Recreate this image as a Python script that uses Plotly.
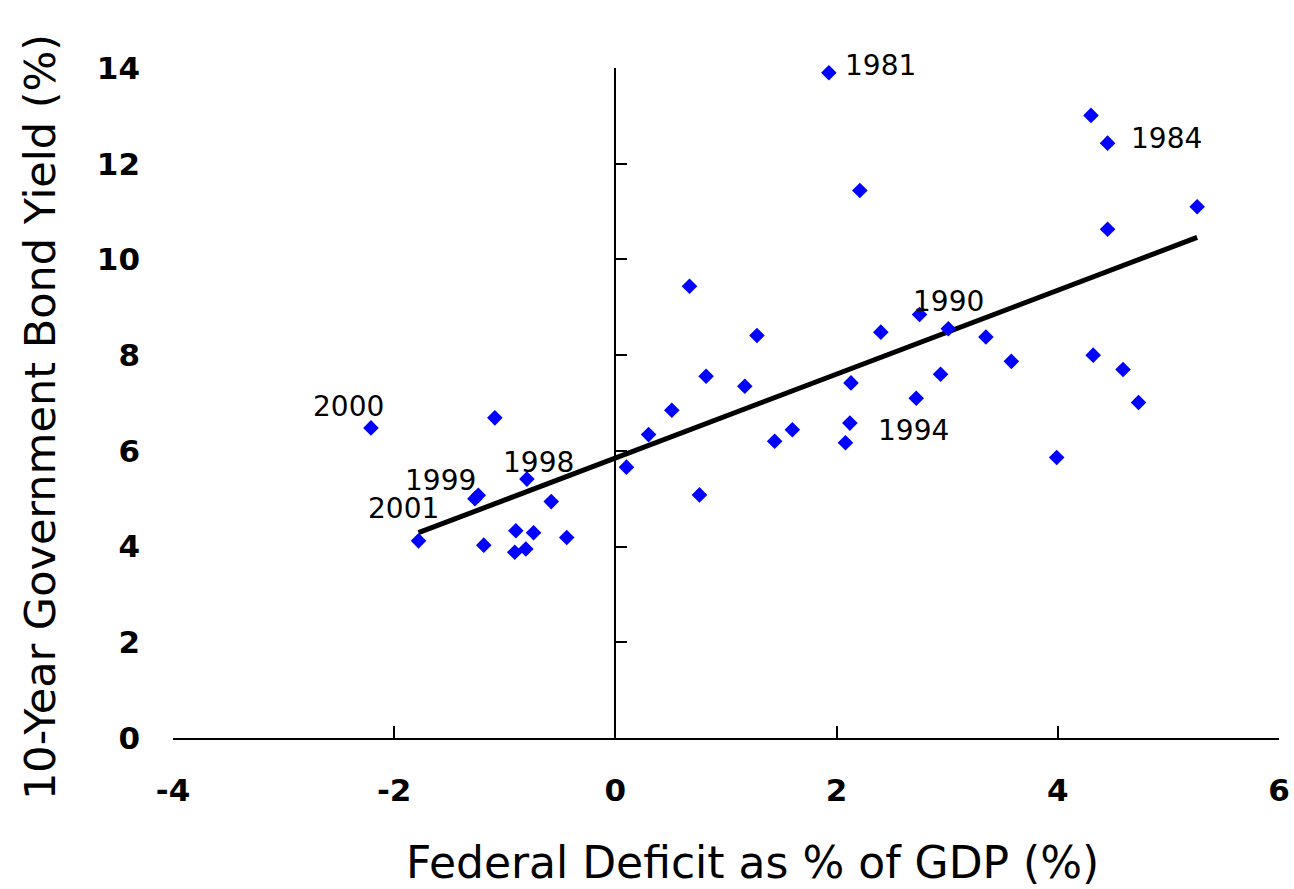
import plotly.graph_objects as go

# Federal deficit (% of GDP) and 10-year government bond yield (%)
deficit_pct = [
    -2.21, -1.09, -1.27, -1.24, -0.80, -0.58, -1.78, -1.19, -0.90, -0.74, -0.91, -0.81, -0.44,
    0.10, 0.30, 0.51, 0.67, 0.82, 0.76, 1.28, 1.17, 1.44, 1.60, 2.13, 2.12, 2.08, 2.40,
    2.72, 2.75, 2.94, 3.01,
    1.93, 2.21, 4.30, 4.45, 5.26, 4.45,
    3.35, 3.58, 4.32, 4.59, 4.73, 3.99,
]
bond_yield = [
    6.48, 6.69, 5.00, 5.07, 5.41, 4.94, 4.12, 4.03, 4.33, 4.29, 3.88, 3.95, 4.19,
    5.66, 6.34, 6.85, 9.44, 7.56, 5.08, 8.41, 7.35, 6.20, 6.44, 7.42, 6.58, 6.17, 8.48,
    7.10, 8.85, 7.60, 8.55,
    13.90, 11.44, 13.01, 12.43, 11.10, 10.63,
    8.38, 7.87, 8.00, 7.70, 7.01, 5.86,
]

# Fitted trend line end points
trend_x = [-1.78, 5.26]
trend_y = [4.29, 10.46]

# Labelled years and the points they refer to
label_years = ["2000", "1999", "2001", "1998", "1994", "1990", "1981", "1984"]
label_x = [-2.21, -1.27, -1.78, -0.80, 2.72, 2.75, 1.93, 4.45]
label_y = [6.48, 5.00, 4.12, 5.41, 7.10, 8.85, 13.90, 12.43]
label_shift = [(-22, 21), (-34, 18), (-15, 32), (12, 17), (-3, -32), (29, 13), (52, 7), (59, 5)]

x_ticks = [-4, -2, 0, 2, 4, 6]
x_tick_text = ["-4", "-2", "0", "2", "4", "6"]
y_ticks = [0, 2, 4, 6, 8, 10, 12, 14]

FONT = "DejaVu Sans"

fig = go.Figure()

fig.add_trace(go.Scatter(
    x=trend_x, y=trend_y, mode="lines",
    line=dict(color="black", width=5),
    hoverinfo="skip", showlegend=False,
))
fig.add_trace(go.Scatter(
    x=deficit_pct, y=bond_yield, mode="markers",
    marker=dict(symbol="diamond", size=12, color="#0000FF", line=dict(width=0)),
    showlegend=False, cliponaxis=False,
))
# Empty traces so the crossing axis line (x = 0) and the x tick marks are drawn
fig.add_trace(go.Scatter(
    x=[None], y=[None], yaxis="y2", mode="markers",
    showlegend=False, hoverinfo="skip",
))
fig.add_trace(go.Scatter(
    x=[None], y=[None], xaxis="x2", mode="markers",
    showlegend=False, hoverinfo="skip",
))

for yr, lx, ly, (dx, dy) in zip(label_years, label_x, label_y, label_shift):
    fig.add_annotation(
        x=lx, y=ly, text=yr, showarrow=False,
        xshift=dx, yshift=dy, xanchor="center", yanchor="middle",
        font=dict(family=FONT, size=28, color="black"),
    )

# Axis titles
fig.add_annotation(
    xref="paper", yref="paper", x=0.5, y=0,
    xshift=26, yshift=-124, showarrow=False,
    xanchor="center", yanchor="middle",
    text="Federal Deficit as % of GDP (%)",
    font=dict(family=FONT, size=44, color="black"),
)
fig.add_annotation(
    xref="paper", yref="paper", x=0, y=0.5,
    xshift=-133, yshift=-14, showarrow=False, textangle=-90,
    xanchor="center", yanchor="middle",
    text="10-Year Government Bond Yield (%)",
    font=dict(family=FONT, size=43, color="black"),
)

fig.update_layout(
    width=1294, height=889,
    margin=dict(l=173, r=15, t=68, b=151),
    paper_bgcolor="white", plot_bgcolor="white",
    font=dict(family=FONT, color="black"),
    xaxis=dict(
        range=[-4, 6], tickvals=x_ticks, ticktext=x_tick_text,
        showline=True, linecolor="black", linewidth=1.5,
        ticks="", showgrid=False, zeroline=False, automargin=False,
        tickfont=dict(family=FONT, size=31, color="black", weight="bold"),
        ticklabelstandoff=24,
    ),
    xaxis2=dict(
        range=[-4, 6], tickvals=x_ticks, overlaying="x", anchor="y", side="bottom",
        showline=False, ticks="inside", ticklen=12, tickcolor="black", tickwidth=1.5,
        showticklabels=False, showgrid=False, zeroline=False, automargin=False,
    ),
    yaxis=dict(
        range=[0, 14], tickvals=y_ticks,
        showline=False, ticks="", showgrid=False, zeroline=False, automargin=False,
        tickfont=dict(family=FONT, size=31, color="black", weight="bold"),
        ticklabelstandoff=32,
    ),
    yaxis2=dict(
        range=[0, 14], tickvals=y_ticks, overlaying="y", anchor="free",
        position=0.4, side="left",
        showline=True, linecolor="black", linewidth=1.5,
        ticks="inside", ticklen=11, tickcolor="black", tickwidth=1.5,
        showticklabels=False, showgrid=False, zeroline=False, automargin=False,
    ),
)

fig.write_html("out.html")
